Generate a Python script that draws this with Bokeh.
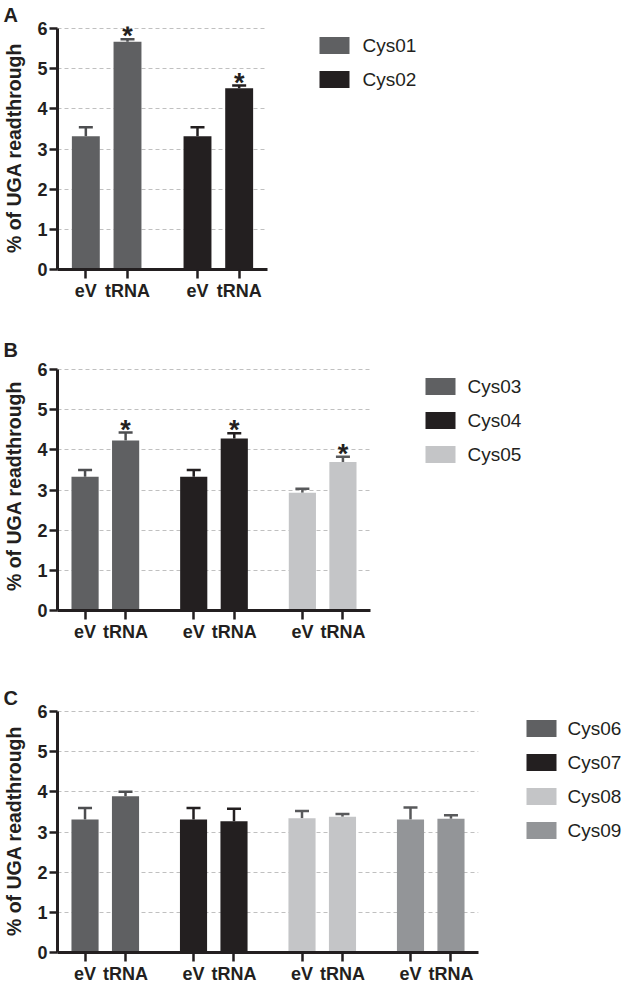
from bokeh.plotting import figure
from bokeh.models import Range1d, FixedTicker, Whisker, TeeHead, ColumnDataSource
from bokeh.layouts import row, column
from bokeh.embed import file_html
from bokeh.resources import INLINE
from bokeh.core.properties import value

# ---------------- data ----------------
conditions = ["eV", "tRNA"]

a_constructs = ["Cys01", "Cys02"]
a_ev = [3.32, 3.32]
a_ev_err = [0.22, 0.22]
a_trna = [5.67, 4.51]
a_trna_err = [0.06, 0.07]
a_sig = [True, True]

b_constructs = ["Cys03", "Cys04", "Cys05"]
b_ev = [3.33, 3.33, 2.93]
b_ev_err = [0.17, 0.17, 0.10]
b_trna = [4.23, 4.28, 3.70]
b_trna_err = [0.20, 0.13, 0.13]
b_sig = [True, True, True]

c_constructs = ["Cys06", "Cys07", "Cys08", "Cys09"]
c_ev = [3.31, 3.31, 3.34, 3.31]
c_ev_err = [0.29, 0.29, 0.18, 0.30]
c_trna = [3.89, 3.27, 3.38, 3.33]
c_trna_err = [0.11, 0.31, 0.07, 0.09]
c_sig = [False, False, False, False]

y_ticks = [0, 1, 2, 3, 4, 5, 6]
y_label = "% of UGA readthrough"

bar_colors = {
    "Cys01": "#5f6062", "Cys02": "#231f20",
    "Cys03": "#5f6062", "Cys04": "#231f20", "Cys05": "#c4c5c7",
    "Cys06": "#5f6062", "Cys07": "#231f20", "Cys08": "#c4c5c7", "Cys09": "#939598",
}
err_colors = {
    "#5f6062": "#4d4e50", "#231f20": "#231f20",
    "#c4c5c7": "#58595b", "#939598": "#58595b",
}

FONT = "Liberation Sans"
INK = "#231f20"
TOTAL_W = 622

STEP, PITCH, MARGIN, BARW = 268, 100, 68, 67
LEFT, RIGHT, TOP = 52, 10, 26
AX_H = 241            # pixels from 0 to 6
PXU = AX_H / 6.0


def panel(letter, constructs, ev, ev_err, trna, trna_err, sig,
          frame_w, main_h, head, sq_x, txt_x):
    n = len(constructs)
    main_w = LEFT + frame_w + RIGHT
    bottom = main_h - TOP - head - AX_H
    x_end = (n - 1) * STEP + PITCH + MARGIN
    yr = Range1d(0, 6 + head / PXU)
    p = figure(width=main_w, height=main_h, title=letter,
               x_range=Range1d(-MARGIN, x_end), y_range=yr,
               output_backend="svg", toolbar_location=None,
               min_border_left=LEFT, min_border_right=RIGHT,
               min_border_top=TOP, min_border_bottom=bottom,
               outline_line_color=None, background_fill_color="white")
    p.title.align = "left"
    p.title.vertical_align = "middle"
    p.title.offset = -54
    p.title.standoff = 0
    p.title.text_font = FONT
    p.title.text_font_size = "20px"
    p.title.text_font_style = "bold"
    p.title.text_color = INK

    xs, labels = [], {}
    for g, c in enumerate(constructs):
        col = bar_colors[c]
        ecol = err_colors[col]
        x_ev = g * STEP
        x_tr = g * STEP + PITCH
        xs += [x_ev, x_tr]
        labels[x_ev] = conditions[0]
        labels[x_tr] = conditions[1]
        p.vbar(x=[x_ev, x_tr], top=[ev[g], trna[g]], bottom=0, width=BARW,
               fill_color=col, line_color=None)
        src = ColumnDataSource(dict(
            base=[x_ev, x_tr],
            lower=[ev[g], trna[g]],
            upper=[ev[g] + ev_err[g], trna[g] + trna_err[g]]))
        p.add_layout(Whisker(base="base", lower="lower", upper="upper", source=src,
                             dimension="height", line_color=ecol, line_width=2.5,
                             upper_head=TeeHead(size=14, line_color=ecol, line_width=2.5),
                             lower_head=None))
        if sig[g]:
            p.text(x=[x_tr], y=[trna[g] + trna_err[g] + 3.0 / PXU], text=["*"],
                   text_align="center", text_baseline="middle",
                   text_font=value(FONT), text_font_size="27px",
                   text_font_style="bold", text_color=INK)

    # axes
    p.xaxis.ticker = FixedTicker(ticks=xs)
    p.xaxis.major_label_overrides = labels
    p.yaxis.ticker = FixedTicker(ticks=y_ticks)
    p.yaxis.bounds = (0, 6)
    for ax in (p.xaxis, p.yaxis):
        ax.axis_line_width = 3
        ax.axis_line_color = INK
        ax.major_tick_line_width = 2.5
        ax.major_tick_line_color = INK
        ax.major_tick_in = 0
        ax.minor_tick_line_color = None
        ax.major_label_text_font = FONT
        ax.major_label_text_font_size = "18px"
        ax.major_label_text_font_style = "bold"
        ax.major_label_text_color = INK
        ax.major_label_standoff = 2
    p.xaxis.major_tick_out = 9
    p.yaxis.major_tick_out = 8
    p.yaxis.axis_label = y_label
    p.yaxis.axis_label_text_font = FONT
    p.yaxis.axis_label_text_font_size = "19.5px"
    p.yaxis.axis_label_text_font_style = "bold"
    p.yaxis.axis_label_text_color = INK
    p.yaxis.axis_label_standoff = 9

    p.xgrid.visible = False
    p.ygrid.ticker = FixedTicker(ticks=y_ticks[1:])
    p.ygrid.grid_line_color = "#c0c0c0"
    p.ygrid.grid_line_dash = "4 3"
    p.ygrid.grid_line_width = 1

    # legend panel: same vertical frame and range as the chart
    lw = TOTAL_W - main_w
    leg = figure(width=lw, height=main_h, x_range=Range1d(main_w, TOTAL_W),
                 y_range=yr, output_backend="svg", toolbar_location=None,
                 min_border_left=0, min_border_right=0,
                 min_border_top=TOP, min_border_bottom=bottom,
                 x_axis_location=None, y_axis_location=None,
                 outline_line_color=None)
    leg.grid.visible = False
    centers = [6 - (17 + 34 * i) / PXU for i in range(n)]
    leg.rect(x=[sq_x + 15] * n, y=centers, width=30, height=17 / PXU,
             fill_color=[bar_colors[c] for c in constructs], line_color=None)
    leg.text(x=[txt_x] * n, y=centers, text=constructs,
             text_align="left", text_baseline="middle",
             text_font=value(FONT), text_font_size="19px", text_color=INK)
    return row(p, leg)


pa = panel("A", a_constructs, a_ev, a_ev_err, a_trna, a_trna_err, a_sig,
           frame_w=215, main_h=335, head=2, sq_x=319, txt_x=362)
pb = panel("B", b_constructs, b_ev, b_ev_err, b_trna, b_trna_err, b_sig,
           frame_w=318, main_h=348, head=8, sq_x=425, txt_x=467)
pc = panel("C", c_constructs, c_ev, c_ev_err, c_trna, c_trna_err, c_sig,
           frame_w=426, main_h=304, head=2, sq_x=526, txt_x=567)

layout = column(pa, pb, pc)
open("out.html", "w").write(file_html(layout, INLINE))
